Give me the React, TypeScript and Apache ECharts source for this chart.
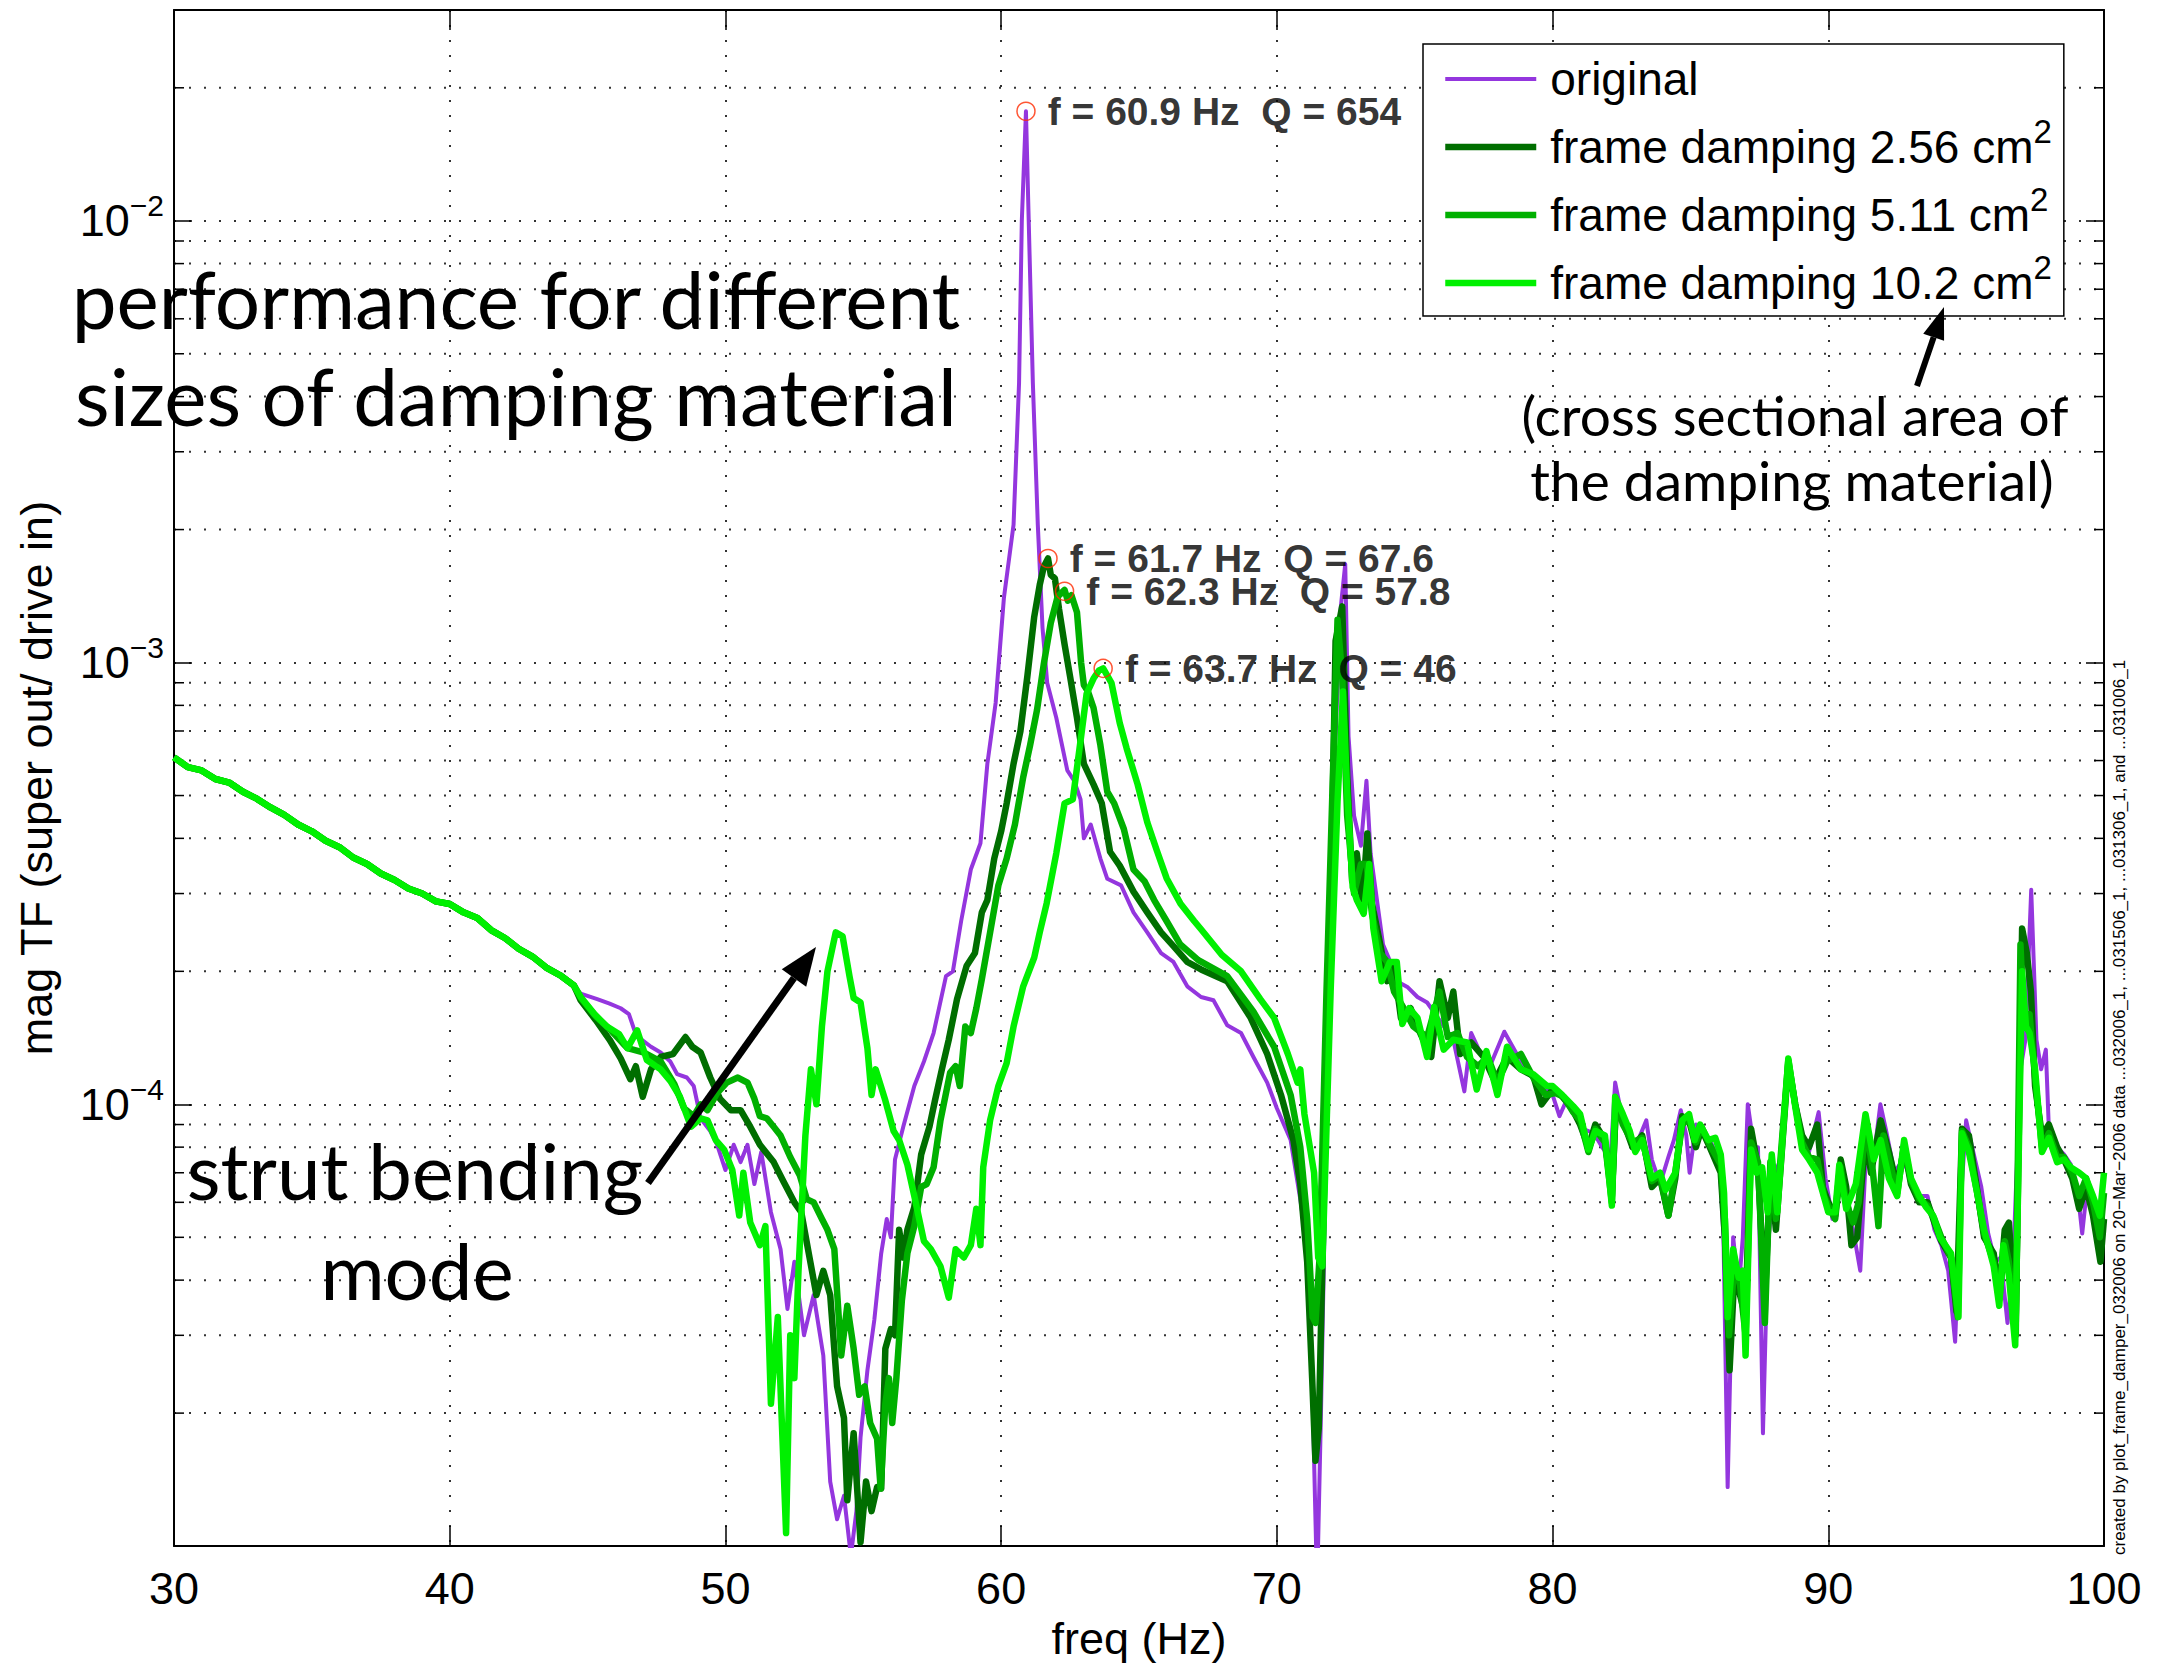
import React, { useEffect, useRef } from 'react';
import * as echarts from 'echarts';

const FONT = "'Liberation Sans', Arial, Helvetica, sans-serif";
const ANNOT_FONT = "Lato, 'Open Sans', sans-serif";

const PURPLE = '#9436DE';
const DARK_GREEN = '#006E00';
const MID_GREEN = '#00B000';
const LIGHT_GREEN = '#00F000';

const seriesNames = ['original', 'frame damping 2.56 cm²', 'frame damping 5.11 cm²', 'frame damping 10.2 cm²'];

// shared low-frequency band (all four measurements coincide here)
const lowBand: [number, number][] = [
  [30, 6.1e-4], [30.5, 5.8e-4], [31, 5.7e-4], [31.5, 5.45e-4], [32, 5.35e-4], [32.5, 5.1e-4],
  [33, 4.92e-4], [33.5, 4.7e-4], [34, 4.52e-4], [34.5, 4.3e-4], [35, 4.15e-4], [35.5, 3.95e-4],
  [36, 3.82e-4], [36.5, 3.62e-4], [37, 3.5e-4], [37.5, 3.33e-4], [38, 3.22e-4], [38.5, 3.08e-4],
  [39, 3.0e-4], [39.5, 2.88e-4], [40, 2.84e-4], [40.5, 2.72e-4], [41, 2.64e-4], [41.5, 2.48e-4],
  [42, 2.38e-4], [42.5, 2.25e-4], [43, 2.16e-4], [43.5, 2.04e-4], [44, 1.96e-4], [44.5, 1.86e-4],
];

const originalTail: [number, number][] = [
  [44.75, 1.78e-4], [45.35, 1.73e-4], [45.8, 1.69e-4], [46.2, 1.65e-4], [46.5, 1.6e-4], [46.7, 1.47e-4],
  [46.9, 1.41e-4], [47.3, 1.35e-4], [47.65, 1.31e-4], [48.0, 1.25e-4], [48.25, 1.17e-4], [48.6, 1.15e-4],
  [48.85, 1.1e-4], [49.1, 9.3e-5], [49.45, 8.7e-5], [49.7, 8.1e-5], [50.0, 7.1e-5], [50.3, 8.1e-5],
  [50.55, 7.4e-5], [50.8, 8.1e-5], [51.05, 6.6e-5], [51.3, 7.8e-5], [51.65, 5.7e-5], [52.0, 4.7e-5],
  [52.25, 3.44e-5], [52.5, 4.4e-5], [52.85, 3.0e-5], [53.2, 3.7e-5], [53.55, 2.7e-5], [53.8, 1.4e-5],
  [54.05, 1.15e-5], [54.3, 1.3e-5], [54.55, 9.5e-6], [54.75, 1.2e-5], [54.9, 1.76e-5], [55.15, 2.5e-5],
  [55.4, 3.25e-5], [55.65, 4.6e-5], [55.85, 5.5e-5], [56.0, 5.0e-5], [56.15, 7.5e-5], [56.45, 8.9e-5],
  [56.85, 1.1e-4], [57.2, 1.25e-4], [57.55, 1.45e-4], [58.0, 1.95e-4], [58.25, 2.0e-4], [58.55, 2.6e-4],
  [58.9, 3.4e-4], [59.25, 3.9e-4], [59.5, 5.9e-4], [59.8, 8.1e-4], [60.1, 1.4e-3], [60.45, 2.05e-3],
  [60.65, 4.3e-3], [60.75, 1.0e-2], [60.9, 1.77e-2], [61.0, 1.0e-2], [61.15, 4.3e-3], [61.33, 2.05e-3],
  [61.5, 1.2e-3], [61.67, 9.0e-4], [62.0, 7.5e-4], [62.4, 5.7e-4], [62.65, 5.4e-4], [62.88, 4.9e-4],
  [63.0, 4.0e-4], [63.25, 4.3e-4], [63.6, 3.6e-4], [63.85, 3.24e-4], [64.35, 3.13e-4], [64.8, 2.72e-4],
  [65.3, 2.45e-4], [65.8, 2.2e-4], [66.25, 2.1e-4], [66.75, 1.85e-4], [67.25, 1.75e-4], [67.7, 1.72e-4],
  [68.2, 1.51e-4], [68.7, 1.45e-4], [69.15, 1.28e-4], [69.65, 1.12e-4], [70.0, 9.8e-5], [70.5, 8.3e-5],
  [70.85, 6.1e-5], [71.1, 4.7e-5], [71.28, 2.4e-5], [71.46, 8e-6], [71.6, 2e-5], [71.85, 1.3e-4],
  [72.1, 6e-4], [72.3, 1.3e-3], [72.48, 1.67e-3], [72.6, 6.8e-4], [72.8, 4.5e-4], [73.05, 3.85e-4],
  [73.25, 5.4e-4], [73.4, 3.7e-4], [73.65, 2.84e-4], [73.85, 2.3e-4], [74.05, 2.15e-4], [74.35, 1.9e-4],
  [74.75, 1.84e-4], [75.1, 1.75e-4], [75.45, 1.7e-4], [75.9, 1.55e-4], [76.4, 1.4e-4], [76.8, 1.07e-4],
  [77.05, 1.45e-4], [77.4, 1.3e-4], [77.8, 1.25e-4], [78.25, 1.46e-4], [78.7, 1.3e-4], [79.2, 1.16e-4],
  [79.7, 1.1e-4], [80.0, 1.05e-4], [80.25, 9.4e-5], [80.5, 1.02e-4], [80.8, 9.6e-5], [81.1, 8.8e-5],
  [81.5, 8.6e-5], [81.8, 8.0e-5], [82.1, 7.5e-5], [82.27, 1.12e-4], [82.5, 9.5e-5], [82.8, 8.5e-5],
  [83.0, 8.0e-5], [83.4, 9.2e-5], [83.6, 7.5e-5], [83.9, 6.6e-5], [84.2, 7.6e-5], [84.4, 8.3e-5],
  [84.65, 9.7e-5], [84.85, 8.5e-5], [84.97, 7.0e-5], [85.2, 9.0e-5], [85.45, 8.6e-5], [85.7, 8.3e-5],
  [86.05, 7.5e-5], [86.2, 5.0e-5], [86.35, 1.36e-5], [86.55, 5.0e-5], [86.75, 3.8e-5], [86.9, 5.0e-5],
  [87.08, 1.0e-4], [87.3, 8.0e-5], [87.45, 8.0e-5], [87.63, 1.8e-5], [87.8, 4.6e-5], [88.0, 6.8e-5],
  [88.3, 7.6e-5], [88.55, 1.2e-4], [88.8, 1.0e-4], [89.05, 8.5e-5], [89.3, 7.8e-5], [89.65, 9.6e-5],
  [89.9, 6.8e-5], [90.15, 5.5e-5], [90.4, 6.8e-5], [90.65, 6.0e-5], [90.9, 5.2e-5], [91.16, 4.2e-5],
  [91.4, 8.5e-5], [91.65, 7.6e-5], [91.89, 1.0e-4], [92.1, 8.7e-5], [92.4, 7.0e-5], [92.7, 7.5e-5],
  [93.0, 6.8e-5], [93.25, 6.2e-5], [93.6, 6.2e-5], [93.85, 5.2e-5], [94.1, 4.8e-5], [94.35, 4.2e-5],
  [94.6, 2.9e-5], [94.8, 6e-5], [95.0, 9.2e-5], [95.3, 7.6e-5], [95.55, 6.5e-5], [95.8, 5.1e-5],
  [96.05, 4.4e-5], [96.25, 4.5e-5], [96.5, 3.2e-5], [96.7, 4.3e-5], [96.97, 1.2e-4], [97.15, 1.4e-4],
  [97.36, 3.06e-4], [97.55, 1.4e-4], [97.72, 1.2e-4], [97.89, 1.33e-4], [98.0, 8.8e-5], [98.3, 8.0e-5],
  [98.55, 7.7e-5], [98.8, 7.3e-5], [99.05, 6.3e-5], [99.21, 5.1e-5], [99.4, 6.6e-5], [99.65, 6.0e-5],
  [99.85, 5.3e-5], [100, 6.0e-5],
];

const damp256Tail: [number, number][] = [
  [44.75, 1.72e-4], [45.3, 1.55e-4], [45.8, 1.4e-4], [46.2, 1.27e-4], [46.55, 1.14e-4], [46.75, 1.22e-4],
  [47.0, 1.04e-4], [47.3, 1.2e-4], [47.65, 1.28e-4], [48.1, 1.3e-4], [48.55, 1.42e-4], [48.8, 1.35e-4],
  [49.1, 1.31e-4], [49.45, 1.15e-4], [49.8, 1.03e-4], [50.2, 9.7e-5], [50.55, 9.7e-5], [50.9, 8.9e-5],
  [51.25, 8.1e-5], [51.75, 7.4e-5], [52.1, 6.7e-5], [52.5, 6.0e-5], [52.75, 5.7e-5], [53.05, 4.5e-5],
  [53.3, 3.7e-5], [53.55, 4.2e-5], [53.8, 3.7e-5], [54.05, 2.3e-5], [54.3, 1.95e-5], [54.42, 1.27e-5],
  [54.65, 1.8e-5], [54.9, 1.02e-5], [55.1, 1.4e-5], [55.3, 1.2e-5], [55.5, 1.36e-5], [55.65, 1.35e-5],
  [55.8, 2.8e-5], [56.0, 3.1e-5], [56.15, 3.0e-5], [56.3, 5.2e-5], [56.45, 4.5e-5], [56.6, 5.2e-5],
  [56.85, 5.85e-5], [57.1, 7.7e-5], [57.4, 8.9e-5], [57.6, 1.02e-4], [57.85, 1.2e-4], [58.1, 1.4e-4],
  [58.4, 1.73e-4], [58.75, 2.06e-4], [59.05, 2.2e-4], [59.3, 2.72e-4], [59.5, 2.9e-4], [59.75, 3.6e-4],
  [60.0, 4.15e-4], [60.2, 4.8e-4], [60.45, 5.9e-4], [60.7, 7.0e-4], [60.95, 9.3e-4], [61.2, 1.27e-3],
  [61.4, 1.5e-3], [61.55, 1.65e-3], [61.7, 1.72e-3], [61.8, 1.58e-3], [61.95, 1.55e-3], [62.1, 1.32e-3],
  [62.3, 1.1e-3], [62.5, 9.3e-4], [62.75, 7.5e-4], [63.0, 5.9e-4], [63.35, 5.3e-4], [63.65, 4.8e-4],
  [63.95, 3.73e-4], [64.3, 3.47e-4], [64.8, 3.03e-4], [65.3, 2.72e-4], [65.8, 2.45e-4], [66.25, 2.28e-4],
  [66.75, 2.1e-4], [67.25, 2.02e-4], [68.2, 1.9e-4], [69.05, 1.57e-4], [69.65, 1.3e-4], [70.15, 1.05e-4],
  [70.6, 8.3e-5], [70.85, 6.6e-5], [71.1, 4.4e-5], [71.28, 2.4e-5], [71.4, 1.56e-5], [71.52, 1.85e-5],
  [71.7, 6e-5], [71.95, 2.6e-4], [72.13, 1.12e-3], [72.37, 1.34e-3], [72.55, 5.55e-4], [72.73, 3.2e-4],
  [72.9, 3.7e-4], [73.1, 2.85e-4], [73.28, 4.1e-4], [73.45, 2.85e-4], [73.75, 2.3e-4], [74.0, 1.9e-4],
  [74.25, 2.05e-4], [74.5, 1.57e-4], [74.85, 1.65e-4], [75.2, 1.45e-4], [75.6, 1.28e-4], [75.9, 1.9e-4],
  [76.2, 1.57e-4], [76.4, 1.8e-4], [76.65, 1.3e-4], [77.05, 1.38e-4], [77.5, 1.28e-4], [77.9, 1.13e-4],
  [78.35, 1.28e-4], [78.85, 1.2e-4], [79.3, 1.16e-4], [79.6, 1.0e-4], [80.0, 1.08e-4], [80.3, 1.05e-4],
  [80.7, 9.8e-5], [81.0, 9.0e-5], [81.3, 8.0e-5], [81.55, 9.0e-5], [81.9, 8.3e-5], [82.15, 6.2e-5],
  [82.3, 1.0e-4], [82.55, 9.2e-5], [82.9, 8.0e-5], [83.25, 8.5e-5], [83.6, 6.5e-5], [83.9, 6.8e-5],
  [84.2, 5.6e-5], [84.45, 6.8e-5], [84.7, 9.4e-5], [84.95, 9.2e-5], [85.2, 8.0e-5], [85.4, 8.8e-5],
  [85.7, 8.0e-5], [86.1, 7.0e-5], [86.25, 5.0e-5], [86.42, 2.5e-5], [86.6, 4.2e-5], [86.8, 3.7e-5],
  [87.0, 3.3e-5], [87.2, 8.8e-5], [87.45, 7.2e-5], [87.7, 3.6e-5], [87.9, 7.0e-5], [88.1, 5.2e-5],
  [88.3, 7.6e-5], [88.55, 1.24e-4], [88.8, 1.0e-4], [89.05, 8.5e-5], [89.3, 8.0e-5], [89.6, 9.0e-5],
  [89.8, 6.5e-5], [90.0, 6.0e-5], [90.25, 5.6e-5], [90.45, 7.5e-5], [90.65, 6.5e-5], [90.84, 4.8e-5],
  [91.05, 5.0e-5], [91.35, 8.5e-5], [91.55, 7.0e-5], [91.9, 9.2e-5], [92.2, 7.8e-5], [92.5, 6.5e-5],
  [92.75, 8.0e-5], [93.0, 6.6e-5], [93.3, 6.0e-5], [93.6, 6.0e-5], [93.85, 5.4e-5], [94.1, 4.9e-5],
  [94.45, 4.5e-5], [94.65, 3.4e-5], [94.85, 8.8e-5], [95.1, 8.5e-5], [95.4, 6.4e-5], [95.65, 5.0e-5],
  [96.0, 4.6e-5], [96.2, 3.7e-5], [96.4, 5.2e-5], [96.55, 5.4e-5], [96.8, 3.2e-5], [97.03, 2.5e-4],
  [97.2, 2.2e-4], [97.35, 1.8e-4], [97.5, 1.1e-4], [97.75, 8.5e-5], [98.0, 9.0e-5], [98.3, 8.0e-5],
  [98.55, 7.5e-5], [98.85, 6.8e-5], [99.1, 5.8e-5], [99.35, 6.5e-5], [99.6, 5.6e-5], [99.87, 4.4e-5],
  [100, 5.5e-5],
];

const damp511Tail: [number, number][] = [
  [44.75, 1.74e-4], [45.3, 1.58e-4], [45.85, 1.47e-4], [46.45, 1.34e-4], [47.05, 1.31e-4], [47.65, 1.25e-4],
  [48.15, 1.11e-4], [48.5, 9.8e-5], [48.85, 9.4e-5], [49.1, 1.0e-4], [49.35, 9.7e-5], [49.7, 1.06e-4],
  [50.05, 1.12e-4], [50.45, 1.15e-4], [50.8, 1.12e-4], [51.05, 1.03e-4], [51.25, 9.4e-5], [51.5, 9.3e-5],
  [51.75, 8.9e-5], [52.0, 8.5e-5], [52.35, 7.6e-5], [52.7, 6.9e-5], [52.95, 6.1e-5], [53.2, 6.0e-5],
  [53.5, 5.5e-5], [53.7, 5.2e-5], [53.95, 4.7e-5], [54.2, 2.7e-5], [54.42, 3.5e-5], [54.65, 2.8e-5],
  [54.85, 2.2e-5], [55.05, 2.3e-5], [55.25, 1.9e-5], [55.5, 1.75e-5], [55.63, 1.35e-5], [55.8, 2.1e-5],
  [55.93, 2.4e-5], [56.05, 1.9e-5], [56.2, 2.4e-5], [56.4, 3.6e-5], [56.6, 4.6e-5], [56.85, 5.3e-5],
  [57.1, 6.5e-5], [57.3, 6.6e-5], [57.55, 7.2e-5], [57.8, 9.2e-5], [58.15, 1.18e-4], [58.35, 1.22e-4],
  [58.5, 1.1e-4], [58.7, 1.5e-4], [58.9, 1.45e-4], [59.1, 1.65e-4], [59.3, 1.92e-4], [59.6, 2.45e-4],
  [59.9, 3.13e-4], [60.2, 3.6e-4], [60.5, 4.3e-4], [60.8, 5.5e-4], [61.05, 6.5e-4], [61.3, 7.8e-4],
  [61.55, 9.95e-4], [61.8, 1.23e-3], [62.05, 1.41e-3], [62.3, 1.46e-3], [62.42, 1.38e-3], [62.55, 1.42e-3],
  [62.75, 1.3e-3], [62.9, 1.0e-3], [63.0, 8.9e-4], [63.15, 8.6e-4], [63.35, 7.9e-4], [63.6, 6.5e-4],
  [63.85, 5.1e-4], [64.1, 4.8e-4], [64.45, 4.2e-4], [64.8, 3.4e-4], [65.2, 3.2e-4], [65.55, 2.9e-4],
  [66.0, 2.6e-4], [66.5, 2.3e-4], [67.15, 2.12e-4], [68.2, 1.95e-4], [69.15, 1.62e-4], [69.9, 1.35e-4],
  [70.5, 1.05e-4], [70.85, 8e-5], [71.1, 5.5e-5], [71.3, 3.3e-5], [71.4, 3.2e-5], [71.55, 4.5e-5],
  [71.8, 1.8e-4], [72.2, 1.25e-3], [72.37, 9.3e-4], [72.55, 4.5e-4], [72.8, 3.0e-4], [73.05, 3.5e-4],
  [73.25, 3.5e-4], [73.45, 2.7e-4], [73.75, 2.2e-4], [74.0, 2.1e-4], [74.25, 1.8e-4], [74.6, 1.65e-4],
  [74.95, 1.5e-4], [75.45, 1.42e-4], [75.9, 1.8e-4], [76.2, 1.42e-4], [76.55, 1.45e-4], [76.9, 1.28e-4],
  [77.3, 1.22e-4], [77.65, 1.28e-4], [78.0, 1.12e-4], [78.35, 1.25e-4], [78.85, 1.3e-4], [79.3, 1.15e-4],
  [79.75, 1.05e-4], [80.1, 1.06e-4], [80.4, 1.04e-4], [80.75, 9.6e-5], [81.0, 9.2e-5], [81.3, 7.8e-5],
  [81.55, 8.8e-5], [81.9, 8.2e-5], [82.15, 6.0e-5], [82.3, 1.02e-4], [82.55, 9.0e-5], [82.9, 8.2e-5],
  [83.25, 8.4e-5], [83.6, 6.7e-5], [83.9, 6.9e-5], [84.2, 5.6e-5], [84.45, 7.0e-5], [84.7, 9.0e-5],
  [84.95, 9.3e-5], [85.2, 8.2e-5], [85.4, 8.9e-5], [85.7, 8.1e-5], [86.1, 7.3e-5], [86.25, 5.5e-5],
  [86.4, 3.0e-5], [86.6, 4.4e-5], [86.8, 3.9e-5], [87.0, 3.0e-5], [87.2, 8.2e-5], [87.45, 7.4e-5],
  [87.7, 3.2e-5], [87.9, 7.4e-5], [88.1, 5.5e-5], [88.3, 8.0e-5], [88.55, 1.26e-4], [88.8, 1.0e-4],
  [89.05, 8.2e-5], [89.3, 7.6e-5], [89.6, 7.5e-5], [89.85, 6.2e-5], [90.05, 5.8e-5], [90.25, 5.5e-5],
  [90.45, 7.2e-5], [90.65, 6.0e-5], [90.9, 5.4e-5], [91.1, 6.0e-5], [91.35, 9.0e-5], [91.6, 7.2e-5],
  [91.82, 5.3e-5], [92.0, 8.5e-5], [92.25, 7.3e-5], [92.5, 6.3e-5], [92.75, 8.1e-5], [93.0, 6.7e-5],
  [93.3, 6.1e-5], [93.6, 5.9e-5], [93.85, 5.5e-5], [94.1, 5.0e-5], [94.45, 4.5e-5], [94.7, 3.3e-5],
  [94.85, 8.7e-5], [95.1, 8.0e-5], [95.4, 6.3e-5], [95.65, 5.1e-5], [96.0, 4.4e-5], [96.2, 3.6e-5],
  [96.4, 4.9e-5], [96.55, 4.4e-5], [96.8, 3.0e-5], [96.97, 2.3e-4], [97.1, 1.5e-4], [97.3, 1.6e-4],
  [97.5, 1.15e-4], [97.75, 8.0e-5], [98.0, 8.6e-5], [98.3, 7.6e-5], [98.55, 7.6e-5], [98.85, 7.0e-5],
  [99.1, 6.2e-5], [99.35, 6.8e-5], [99.6, 6.0e-5], [99.85, 5.0e-5], [100, 6.3e-5],
];

const damp102Tail: [number, number][] = [
  [44.75, 1.75e-4], [45.25, 1.6e-4], [45.7, 1.5e-4], [46.15, 1.44e-4], [46.45, 1.34e-4], [46.8, 1.47e-4],
  [47.15, 1.26e-4], [47.65, 1.2e-4], [48.0, 1.13e-4], [48.35, 1.04e-4], [48.75, 8.9e-5], [49.1, 9.3e-5],
  [49.35, 9.2e-5], [49.65, 8.3e-5], [49.95, 7.9e-5], [50.25, 7.1e-5], [50.5, 5.6e-5], [50.65, 7.0e-5],
  [50.9, 5.4e-5], [51.25, 4.8e-5], [51.45, 5.3e-5], [51.65, 2.1e-5], [51.9, 3.3e-5], [52.2, 1.07e-5],
  [52.35, 3.0e-5], [52.5, 2.4e-5], [52.65, 4.2e-5], [52.9, 8.5e-5], [53.1, 1.2e-4], [53.3, 1.0e-4],
  [53.5, 1.5e-4], [53.7, 2.0e-4], [54.0, 2.45e-4], [54.25, 2.4e-4], [54.5, 1.95e-4], [54.65, 1.74e-4],
  [54.9, 1.7e-4], [55.15, 1.34e-4], [55.3, 1.05e-4], [55.45, 1.2e-4], [55.8, 1.02e-4], [56.1, 8.7e-5],
  [56.3, 8.3e-5], [56.6, 7.3e-5], [56.85, 6.2e-5], [57.2, 4.9e-5], [57.45, 4.7e-5], [57.8, 4.3e-5],
  [58.1, 3.65e-5], [58.35, 4.7e-5], [58.65, 4.5e-5], [58.9, 4.8e-5], [59.1, 5.8e-5], [59.25, 4.8e-5],
  [59.35, 7.2e-5], [59.6, 9.2e-5], [59.9, 1.1e-4], [60.2, 1.24e-4], [60.45, 1.5e-4], [60.8, 1.85e-4],
  [61.2, 2.15e-4], [61.4, 2.45e-4], [61.65, 2.85e-4], [62.0, 3.7e-4], [62.3, 4.8e-4], [62.6, 4.9e-4],
  [62.9, 6.8e-4], [63.1, 8.5e-4], [63.35, 9.2e-4], [63.55, 9.6e-4], [63.7, 9.7e-4], [64.0, 9.0e-4],
  [64.3, 7.3e-4], [64.55, 6.4e-4], [64.95, 5.3e-4], [65.3, 4.35e-4], [65.65, 3.75e-4], [66.0, 3.25e-4],
  [66.5, 2.85e-4], [67.0, 2.6e-4], [67.25, 2.49e-4], [68.0, 2.18e-4], [68.7, 2.0e-4], [69.4, 1.73e-4],
  [69.9, 1.57e-4], [70.4, 1.3e-4], [70.75, 1.12e-4], [70.85, 1.2e-4], [71.0, 9.5e-5], [71.35, 7.0e-5],
  [71.5, 4.5e-5], [71.65, 4.3e-5], [71.95, 1.8e-4], [72.2, 4.85e-4], [72.4, 8.6e-4], [72.55, 5.1e-4],
  [72.75, 3.1e-4], [72.9, 2.9e-4], [73.15, 2.7e-4], [73.35, 3.5e-4], [73.5, 2.5e-4], [73.8, 1.9e-4],
  [74.1, 2.1e-4], [74.35, 2.1e-4], [74.55, 1.52e-4], [74.8, 1.65e-4], [75.1, 1.57e-4], [75.45, 1.28e-4],
  [75.7, 1.66e-4], [76.05, 1.33e-4], [76.4, 1.4e-4], [76.9, 1.38e-4], [77.25, 1.08e-4], [77.6, 1.32e-4],
  [78.0, 1.05e-4], [78.35, 1.35e-4], [78.85, 1.2e-4], [79.3, 1.17e-4], [79.8, 1.1e-4], [80.0, 1.1e-4],
  [80.35, 1.05e-4], [80.75, 9.9e-5], [81.0, 9.5e-5], [81.3, 7.9e-5], [81.55, 8.7e-5], [81.9, 8.5e-5],
  [82.15, 5.9e-5], [82.27, 1.04e-4], [82.55, 9.5e-5], [82.8, 8.7e-5], [83.0, 7.8e-5], [83.25, 8.3e-5],
  [83.6, 6.8e-5], [83.9, 7.0e-5], [84.1, 6.4e-5], [84.45, 7.0e-5], [84.7, 9.2e-5], [84.95, 9.5e-5],
  [85.15, 8.3e-5], [85.35, 9.0e-5], [85.65, 8.3e-5], [85.9, 8.4e-5], [86.1, 7.7e-5], [86.22, 6.3e-5],
  [86.35, 3.3e-5], [86.55, 4.7e-5], [86.75, 4.05e-5], [86.9, 4.2e-5], [87.0, 2.7e-5], [87.2, 7.9e-5],
  [87.4, 7.0e-5], [87.6, 7.2e-5], [87.8, 5.7e-5], [87.95, 7.7e-5], [88.15, 5.7e-5], [88.35, 8.5e-5],
  [88.55, 1.27e-4], [88.8, 9.9e-5], [89.05, 7.9e-5], [89.3, 7.5e-5], [89.6, 7.0e-5], [90.0, 5.7e-5],
  [90.25, 5.7e-5], [90.4, 7.3e-5], [90.65, 5.8e-5], [91.0, 6.6e-5], [91.35, 9.5e-5], [91.65, 7.5e-5],
  [91.9, 8.3e-5], [92.2, 6.8e-5], [92.5, 6.2e-5], [92.75, 8.3e-5], [93.0, 6.8e-5], [93.3, 6.2e-5],
  [93.55, 5.85e-5], [93.8, 5.6e-5], [94.05, 5.0e-5], [94.45, 4.6e-5], [94.72, 3.3e-5], [94.85, 8.6e-5],
  [95.1, 7.8e-5], [95.4, 6.3e-5], [95.65, 5.2e-5], [96.0, 4.3e-5], [96.2, 3.5e-5], [96.35, 4.8e-5],
  [96.55, 4.1e-5], [96.78, 2.85e-5], [97.03, 2.0e-4], [97.17, 1.5e-4], [97.3, 1.45e-4], [97.5, 1.2e-4],
  [97.75, 7.8e-5], [98.0, 8.4e-5], [98.3, 7.4e-5], [98.55, 7.5e-5], [98.8, 7.2e-5], [99.1, 7.0e-5],
  [99.35, 6.8e-5], [99.6, 6.2e-5], [99.85, 5.6e-5], [100, 7.0e-5],
];

const peakFreqs = [60.9, 61.7, 62.3, 63.7];
const peakMags = [1.77e-2, 1.72e-3, 1.45e-3, 9.7e-4];
const peakLabels = ['f = 60.9 Hz  Q = 654', 'f = 61.7 Hz  Q = 67.6', 'f = 62.3 Hz  Q = 57.8', 'f = 63.7 Hz  Q = 46'];

const xTicks = { min: 30, max: 100, interval: 10 };
const yRange = { min: 1e-5, max: 3e-2 };
const minorTickValues = [
  2e-5, 3e-5, 4e-5, 5e-5, 6e-5, 7e-5, 8e-5, 9e-5,
  2e-4, 3e-4, 4e-4, 5e-4, 6e-4, 7e-4, 8e-4, 9e-4,
  2e-3, 3e-3, 4e-3, 5e-3, 6e-3, 7e-3, 8e-3, 9e-3,
  2e-2,
];

const GRID = { left: 174, right: 56, top: 10, bottom: 109 };
const DOT = { color: '#333', width: 2, type: [2, 13] as number[] };

function arrow(tail: [number, number], tip: [number, number], shaft: number, headLen: number, headHalf: number) {
  const dx = tip[0] - tail[0];
  const dy = tip[1] - tail[1];
  const len = Math.sqrt(dx * dx + dy * dy);
  const ux = dx / len, uy = dy / len;
  const nx = -uy, ny = ux;
  const bx = tip[0] - ux * headLen, by = tip[1] - uy * headLen;
  return [
    { type: 'line', z: 50, shape: { x1: tail[0], y1: tail[1], x2: bx, y2: by }, style: { stroke: '#000', lineWidth: shaft } },
    { type: 'polygon', z: 50, shape: { points: [[tip[0], tip[1]], [bx + nx * headHalf, by + ny * headHalf], [bx - nx * headHalf, by - ny * headHalf]] }, style: { fill: '#000' } },
  ];
}

export default function App() {
  const ref = useRef<HTMLDivElement>(null);

  useEffect(() => {
    if (!ref.current) return;
    const chart = echarts.init(ref.current, undefined, { renderer: 'svg' });

    const lineSeries = [
      { name: seriesNames[0], data: [...lowBand, ...originalTail], color: PURPLE, width: 4 },
      { name: seriesNames[1], data: [...lowBand, ...damp256Tail], color: DARK_GREEN, width: 6.5 },
      { name: seriesNames[2], data: [...lowBand, ...damp511Tail], color: MID_GREEN, width: 6.5 },
      { name: seriesNames[3], data: [...lowBand, ...damp102Tail], color: LIGHT_GREEN, width: 6.5 },
    ].map((s, i) => ({
      type: 'line',
      name: s.name,
      data: s.data,
      symbol: 'none',
      showSymbol: false,
      clip: true,
      z: 3 + i,
      color: s.color,
      lineStyle: { color: s.color, width: s.width, join: 'round' },
      itemStyle: { color: s.color },
      silent: true,
    }));

    const yLabelFormatter = (val: number) => {
      const e = Math.log10(val);
      const r = Math.round(e);
      if (Math.abs(e - r) > 1e-6) return '';
      if (r <= -5) return '';
      return `{b|10}{s|−${-r}}`;
    };

    const option: any = {
      animation: false,
      backgroundColor: '#fff',
      grid: { ...GRID, containLabel: false },
      xAxis: [
        {
          type: 'value', position: 'bottom', ...xTicks,
          axisLine: { show: true, lineStyle: { color: '#000', width: 2 } },
          axisTick: { show: true, inside: true, length: 20, lineStyle: { color: '#000', width: 1.5 } },
          axisLabel: { show: true, fontFamily: FONT, fontSize: 45, color: '#000', margin: 20 },
          splitLine: { show: true, lineStyle: DOT },
          name: 'freq (Hz)', nameLocation: 'middle', nameGap: 67,
          nameTextStyle: { fontFamily: FONT, fontSize: 45, color: '#000' },
        },
        {
          type: 'value', position: 'top', ...xTicks,
          axisLine: { show: true, lineStyle: { color: '#000', width: 2 } },
          axisTick: { show: true, inside: true, length: 20, lineStyle: { color: '#000', width: 1.5 } },
          axisLabel: { show: false },
          splitLine: { show: false },
        },
      ],
      yAxis: [
        {
          type: 'log', logBase: 10, position: 'left', ...yRange,
          axisLine: { show: true, lineStyle: { color: '#000', width: 2 } },
          axisTick: { show: true, inside: true, length: 18, lineStyle: { color: '#000', width: 1.5 } },
          axisLabel: {
            show: true, margin: 10, showMinLabel: false, showMaxLabel: false,
            formatter: yLabelFormatter,
            rich: {
              b: { fontFamily: FONT, fontSize: 45, color: '#000', lineHeight: 60 },
              s: { fontFamily: FONT, fontSize: 30, color: '#000', lineHeight: 30, verticalAlign: 'top' },
            },
          },
          splitLine: { show: true, lineStyle: DOT },
          name: 'mag TF (super out/ drive in)', nameLocation: 'middle', nameGap: 115, nameRotate: 90,
          nameTextStyle: { fontFamily: FONT, fontSize: 45, color: '#000' },
        },
        {
          type: 'log', logBase: 10, position: 'right', ...yRange,
          axisLine: { show: true, lineStyle: { color: '#000', width: 2 } },
          axisTick: { show: true, inside: true, length: 18, lineStyle: { color: '#000', width: 1.5 } },
          axisLabel: { show: false },
          splitLine: { show: false },
        },
      ],
      legend: {
        data: seriesNames,
        orient: 'vertical',
        left: 1423,
        top: 44,
        itemWidth: 91,
        itemHeight: 20,
        itemGap: 4,
        padding: [3, 12, 1, 19],
        backgroundColor: '#fff',
        borderColor: '#000',
        borderWidth: 1.5,
        borderRadius: 0,
        selectedMode: false,
        lineStyle: { width: 'inherit' },
        itemStyle: { opacity: 0, borderWidth: 0 },
        formatter: (n: string) => n.replace('²', '{s|2}'),
        textStyle: {
          fontFamily: FONT, fontSize: 46, color: '#000', lineHeight: 64, padding: [0, 0, 0, 9],
          rich: { s: { fontFamily: FONT, fontSize: 33, color: '#000', lineHeight: 33, verticalAlign: 'top' } },
        },
      },
      series: [
        {
          type: 'custom',
          silent: true,
          z: 1,
          clip: false,
          encode: { x: 0, y: 1 },
          data: minorTickValues.map((v) => [xTicks.min, v]),
          renderItem: (_p: any, api: any) => {
            const v = api.value(1);
            const a = api.coord([xTicks.min, v]);
            const b = api.coord([xTicks.max, v]);
            return {
              type: 'group',
              children: [
                { type: 'line', shape: { x1: a[0], y1: a[1], x2: b[0], y2: b[1] }, style: { stroke: DOT.color, lineWidth: DOT.width, lineDash: DOT.type } },
                { type: 'line', shape: { x1: a[0], y1: a[1], x2: a[0] + 10, y2: a[1] }, style: { stroke: '#000', lineWidth: 1.5 } },
                { type: 'line', shape: { x1: b[0] - 10, y1: b[1], x2: b[0], y2: b[1] }, style: { stroke: '#000', lineWidth: 1.5 } },
              ],
            };
          },
        },
        ...lineSeries,
        {
          type: 'scatter',
          silent: true,
          z: 20,
          symbol: 'circle',
          symbolSize: 18,
          itemStyle: { color: 'rgba(0,0,0,0)', borderColor: '#ff2a00', borderWidth: 1.5 },
          data: peakFreqs.map((f, i) => ({ value: [f, peakMags[i]], name: peakLabels[i] })),
          label: {
            show: true, position: 'right', distance: 12, formatter: '{b}',
            fontFamily: FONT, fontWeight: 'bold', fontSize: 39, color: '#000',
          },
        },
      ],
      graphic: [
        { type: 'text', z: 60, x: 516, y: 298, style: { text: 'performance for different', fontFamily: ANNOT_FONT, fontSize: 80, fill: '#000', align: 'center', verticalAlign: 'middle' } },
        { type: 'text', z: 60, x: 516, y: 395, style: { text: 'sizes of damping material', fontFamily: ANNOT_FONT, fontSize: 80, fill: '#000', align: 'center', verticalAlign: 'middle' } },
        { type: 'text', z: 60, x: 415, y: 1170, style: { text: 'strut bending', fontFamily: ANNOT_FONT, fontSize: 78, fill: '#000', align: 'center', verticalAlign: 'middle' } },
        { type: 'text', z: 60, x: 417, y: 1270, style: { text: 'mode', fontFamily: ANNOT_FONT, fontSize: 78, fill: '#000', align: 'center', verticalAlign: 'middle' } },
        { type: 'text', z: 60, x: 1795, y: 415, style: { text: '(cross sectional area of', fontFamily: ANNOT_FONT, fontSize: 55, fill: '#000', align: 'center', verticalAlign: 'middle' } },
        { type: 'text', z: 60, x: 1792, y: 480, style: { text: 'the damping material)', fontFamily: ANNOT_FONT, fontSize: 55, fill: '#000', align: 'center', verticalAlign: 'middle' } },
        ...arrow([648, 1183], [816, 947], 7, 38, 15),
        ...arrow([1917, 386], [1944, 307], 6, 32, 11),
        {
          type: 'text', z: 60, x: 2119, y: 1555, rotation: Math.PI / 2,
          style: {
            text: 'created by plot_frame_damper_032006 on 20−Mar−2006 data ...032006_1, ...031506_1, ...031306_1, and ...031006_1',
            fontFamily: FONT, fontSize: 17, fill: '#000', align: 'left', verticalAlign: 'middle',
          },
        },
      ],
    };

    chart.setOption(option);
    return () => chart.dispose();
  }, []);

  return <div ref={ref} style={{ position: 'absolute', left: 0, top: 0, width: 2160, height: 1666 }} />;
}
